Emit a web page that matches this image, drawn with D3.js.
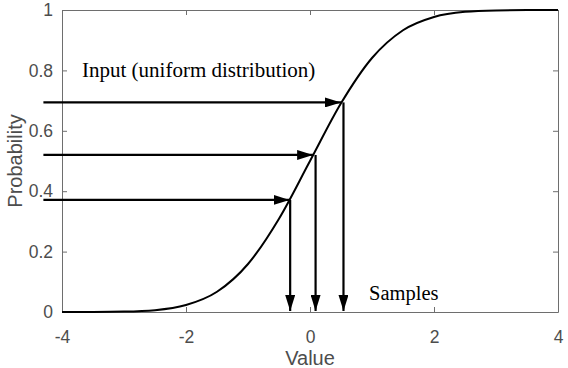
<!DOCTYPE html>
<html>
<head>
<meta charset="utf-8">
<script src="https://cdn.jsdelivr.net/npm/d3@7"></script>
<style>
  body { margin: 0; background: #fff; }
  svg { display: block; }
  .tick text { font-family: "Liberation Sans", Arial, sans-serif; font-size: 17.5px; fill: #4d4d4d; }
  .axis-title { font-family: "Liberation Sans", Arial, sans-serif; font-size: 20px; fill: #4d4d4d; }
  .note { font-family: "Liberation Serif", "Times New Roman", serif; font-size: 20.5px; fill: #000; }
</style>
</head>
<body>
<svg id="chart" width="568" height="368"></svg>
<script>
// CDF curve
const curveX = [-4, -3.5, -3, -2.5, -2, -1.5, -1, -0.5, 0, 0.5, 1, 1.5, 2, 2.5, 3, 3.5, 4];
const curveY = [0, 0.0002, 0.0013, 0.006, 0.023, 0.067, 0.159, 0.309, 0.5, 0.691, 0.841, 0.933, 0.977, 0.994, 0.9987, 0.9998, 1];

// arrows: input probability -> where the arrow hits the curve -> sample
const inputs = [0.694, 0.52, 0.371];
const hitX = [0.5, 0.05, -0.33];
const samples = [0.54, 0.09, -0.32];
const arrowStartX = -4.3;

const xTicks = [-4, -2, 0, 2, 4];
const yTicks = [0, 0.2, 0.4, 0.6, 0.8, 1];

const margin = { top: 10, right: 10, bottom: 56, left: 62 };
const width = 568, height = 368;

const svg = d3.select("#chart");

const x = d3.scaleLinear().domain([-4, 4]).range([margin.left, width - margin.right]);
const y = d3.scaleLinear().domain([0, 1]).range([height - margin.bottom, margin.top]);

const axisColor = "#6e6e6e";

// box + ticks
const xAxis = svg.append("g")
  .attr("transform", `translate(0,${y(0)})`)
  .call(d3.axisBottom(x).tickValues(xTicks).tickSizeInner(-5).tickSizeOuter(0).tickPadding(19).tickFormat((d) => String(d)));
const xTop = svg.append("g")
  .attr("transform", `translate(0,${y(1)})`)
  .call(d3.axisTop(x).tickValues(xTicks).tickSizeInner(-5).tickSizeOuter(0).tickFormat(""));
const yAxis = svg.append("g")
  .attr("transform", `translate(${x(-4)},0)`)
  .call(d3.axisLeft(y).tickValues(yTicks).tickSizeInner(-5).tickSizeOuter(0).tickPadding(9).tickFormat((d) => String(d)));
const yRight = svg.append("g")
  .attr("transform", `translate(${x(4)},0)`)
  .call(d3.axisRight(y).tickValues(yTicks).tickSizeInner(-5).tickSizeOuter(0).tickFormat(""));

[xAxis, xTop, yAxis, yRight].forEach((g) => {
  g.selectAll("path, line").attr("stroke", axisColor);
});
xAxis.selectAll(".tick text").attr("dy", "0.71em");

svg.append("text")
  .attr("class", "axis-title")
  .attr("x", x(0))
  .attr("y", 365)
  .attr("text-anchor", "middle")
  .text("Value");

svg.append("text")
  .attr("class", "axis-title")
  .attr("transform", `translate(22,${y(0.5)}) rotate(-90)`)
  .attr("text-anchor", "middle")
  .text("Probability");

// curve
const line = d3.line()
  .x((d, i) => x(curveX[i]))
  .y((d) => y(d))
  .curve(d3.curveMonotoneX);

svg.append("path")
  .datum(curveY)
  .attr("d", line)
  .attr("fill", "none")
  .attr("stroke", "#000")
  .attr("stroke-width", 2);

// arrow heads
const defs = svg.append("defs");
defs.append("marker")
  .attr("id", "head")
  .attr("viewBox", "0 0 16 10")
  .attr("refX", 16)
  .attr("refY", 5)
  .attr("markerWidth", 16)
  .attr("markerHeight", 10)
  .attr("markerUnits", "userSpaceOnUse")
  .attr("orient", "auto")
  .append("path")
  .attr("d", "M0,0 L16,5 L0,10 Z")
  .attr("fill", "#000");

const arrows = svg.append("g").attr("class", "arrows");

arrows.selectAll("line.h")
  .data(inputs)
  .enter()
  .append("line")
  .classed("h", true)
  .attr("x1", x(arrowStartX))
  .attr("y1", (d) => y(d))
  .attr("x2", (d, i) => x(hitX[i]))
  .attr("y2", (d) => y(d))
  .attr("stroke", "#000")
  .attr("stroke-width", 2.2)
  .attr("marker-end", "url(#head)");

arrows.selectAll("line.v")
  .data(samples)
  .enter()
  .append("line")
  .classed("v", true)
  .attr("x1", (d) => x(d))
  .attr("y1", (d, i) => y(inputs[i]))
  .attr("x2", (d) => x(d))
  .attr("y2", y(0) - 1)
  .attr("stroke", "#000")
  .attr("stroke-width", 2.2)
  .attr("marker-end", "url(#head)");

// annotations
svg.append("text")
  .attr("class", "note")
  .attr("x", 82)
  .attr("y", 77)
  .style("font-size", "21px")
  .text("Input (uniform distribution)");

svg.append("text")
  .attr("class", "note")
  .attr("x", 369)
  .attr("y", 300)
  .text("Samples");
</script>
</body>
</html>
